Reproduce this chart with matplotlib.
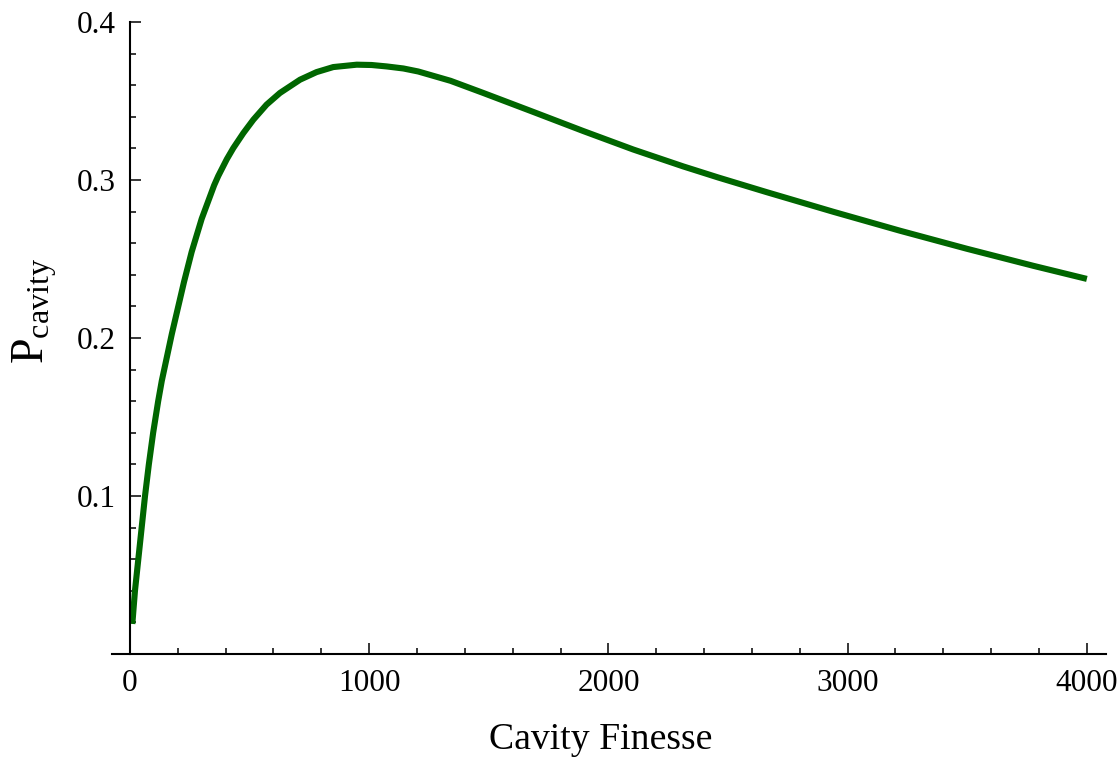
import numpy as np
import matplotlib
matplotlib.use("Agg")
import matplotlib.pyplot as plt
from matplotlib.ticker import MultipleLocator

# cavity power vs finesse
finesse = [10, 21, 35, 49, 63, 79, 97, 118, 133, 175, 226, 258, 300, 352,
           369, 405, 432, 474, 516, 571, 627, 711, 780, 850, 948, 1010, 1073,
           1143, 1205, 1340, 1477, 1686, 1895, 2104, 2313, 2459, 2662, 2940,
           3219, 3498, 3776, 4000]
p_cavity = [0.019, 0.040, 0.060, 0.080, 0.100, 0.120, 0.140, 0.160, 0.1728,
            0.2025, 0.2355, 0.2545, 0.2755, 0.2967, 0.3025, 0.3132, 0.3202,
            0.3297, 0.3382, 0.3477, 0.3551, 0.3635, 0.3683, 0.3715, 0.3730,
            0.3728, 0.3719, 0.3706, 0.3687, 0.3628, 0.3551, 0.3431, 0.3310,
            0.3193, 0.3086, 0.3016, 0.2923, 0.2799, 0.2679, 0.2565, 0.2457,
            0.2374]

xticks = [0, 1000, 2000, 3000, 4000]
yticks = [0.1, 0.2, 0.3, 0.4]

plt.rcParams['font.family'] = ['Liberation Serif', 'DejaVu Serif']
plt.rcParams['mathtext.fontset'] = 'custom'
plt.rcParams['mathtext.rm'] = 'Liberation Serif'
plt.rcParams['mathtext.it'] = 'Liberation Serif:italic'

fig = plt.figure(figsize=(11.2, 7.57), dpi=100)
ax = fig.add_axes([0.1, 0.1361, 0.8875, 0.8348])

ax.plot(finesse, p_cavity, color='#006600', lw=4.4, solid_capstyle='butt',
        solid_joinstyle='round')

ax.set_xlim(-75, 4080)
ax.set_ylim(0, 0.4)

# axes cross at the origin, no box
ax.spines['top'].set_visible(False)
ax.spines['right'].set_visible(False)
ax.spines['left'].set_position(('data', 0))
ax.spines['left'].set_linewidth(1.5)
ax.spines['bottom'].set_linewidth(1.5)

ax.set_xticks(xticks)
ax.set_xticklabels([str(t) for t in xticks])
ax.set_yticks(yticks)
ax.set_yticklabels([f"{t:.1f}" for t in yticks])
ax.xaxis.set_minor_locator(MultipleLocator(200))
ax.yaxis.set_minor_locator(MultipleLocator(0.02))

ax.tick_params(which='both', direction='in', width=1.1, labelsize=22.5,
               colors='black')
ax.tick_params(which='major', length=8)
ax.tick_params(which='minor', length=4.3)
ax.tick_params(axis='x', pad=11)
ax.tick_params(axis='y', pad=10)

ax.set_xlabel('Cavity Finesse', fontsize=27.2)
ax.xaxis.set_label_coords(0.492, -0.136)
ax.xaxis.label.set_va('center')

ax.set_ylabel(r'$\mathrm{P}_{\mathrm{cavity}}$', fontsize=33)
ax.yaxis.set_label_coords(-0.078, 0.543)
ax.yaxis.label.set_va('center')

fig.savefig('out.png', dpi=100)
